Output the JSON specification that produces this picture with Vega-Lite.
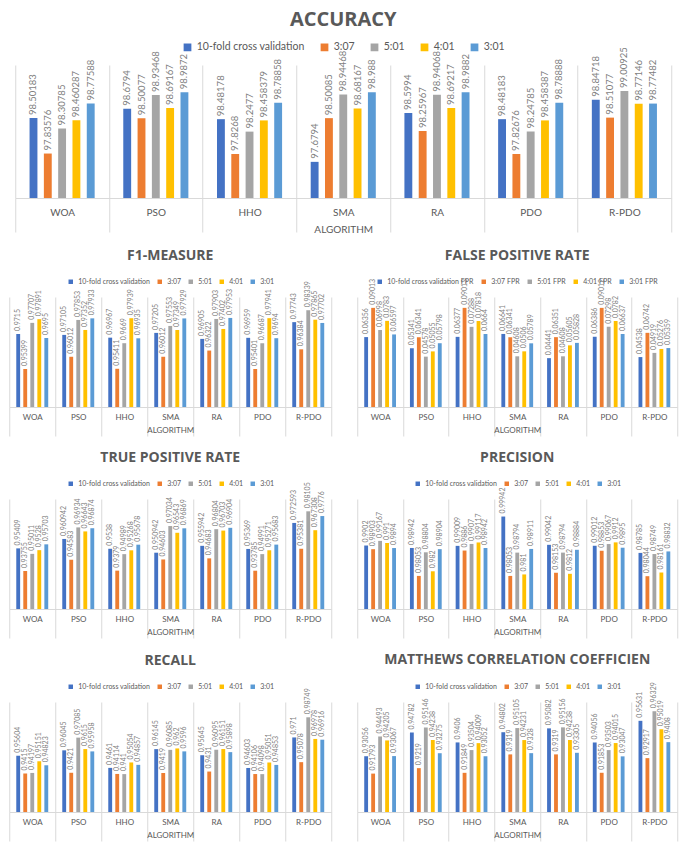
{
  "$schema": "https://vega.github.io/schema/vega-lite/v6.json",
  "padding": {"top": 10, "left": 8, "right": 8, "bottom": 4},
  "background": "white",
  "data": {
    "values": [
      {"metric": "ACC", "algorithm": "WOA", "10-fold cross validation": 98.50183, "3:07": 97.83576, "5:01": 98.30785, "4:01": 98.460287, "3:01": 98.77588},
      {"metric": "ACC", "algorithm": "PSO", "10-fold cross validation": 98.6794, "3:07": 98.50077, "5:01": 98.93468, "4:01": 98.69167, "3:01": 98.9872},
      {"metric": "ACC", "algorithm": "HHO", "10-fold cross validation": 98.48178, "3:07": 97.8268, "5:01": 98.2477, "4:01": 98.458379, "3:01": 98.78858},
      {"metric": "ACC", "algorithm": "SMA", "10-fold cross validation": 97.6794, "3:07": 98.50085, "5:01": 98.94468, "4:01": 98.68167, "3:01": 98.988},
      {"metric": "ACC", "algorithm": "RA", "10-fold cross validation": 98.5994, "3:07": 98.25967, "5:01": 98.94068, "4:01": 98.69217, "3:01": 98.9882},
      {"metric": "ACC", "algorithm": "PDO", "10-fold cross validation": 98.48183, "3:07": 97.82676, "5:01": 98.24785, "4:01": 98.458387, "3:01": 98.78888},
      {"metric": "ACC", "algorithm": "R-PDO", "10-fold cross validation": 98.84718, "3:07": 98.51077, "5:01": 99.00925, "4:01": 98.77146, "3:01": 98.77482},
      {"metric": "F1", "algorithm": "WOA", "10-fold cross validation": 0.9715, "3:07": 0.95399, "5:01": 0.97707, "4:01": 0.97891, "3:01": 0.9695},
      {"metric": "F1", "algorithm": "PSO", "10-fold cross validation": 0.97105, "3:07": 0.96012, "5:01": 0.97853, "4:01": 0.97352, "3:01": 0.97933},
      {"metric": "F1", "algorithm": "HHO", "10-fold cross validation": 0.96967, "3:07": 0.95411, "5:01": 0.9669, "4:01": 0.97939, "3:01": 0.96935},
      {"metric": "F1", "algorithm": "SMA", "10-fold cross validation": 0.97205, "3:07": 0.96012, "5:01": 0.97553, "4:01": 0.97349, "3:01": 0.97929},
      {"metric": "F1", "algorithm": "RA", "10-fold cross validation": 0.96905, "3:07": 0.96322, "5:01": 0.97903, "4:01": 0.97402, "3:01": 0.97953},
      {"metric": "F1", "algorithm": "PDO", "10-fold cross validation": 0.96959, "3:07": 0.95401, "5:01": 0.96687, "4:01": 0.97941, "3:01": 0.9694},
      {"metric": "F1", "algorithm": "R-PDO", "10-fold cross validation": 0.97743, "3:07": 0.96384, "5:01": 0.98339, "4:01": 0.97865, "3:01": 0.97702},
      {"metric": "FPR", "algorithm": "WOA", "10-fold cross validation": 0.06356, "3:07": 0.09013, "5:01": 0.06998, "4:01": 0.0783, "3:01": 0.06597},
      {"metric": "FPR", "algorithm": "PSO", "10-fold cross validation": 0.05341, "3:07": 0.06341, "5:01": 0.04578, "4:01": 0.05055, "3:01": 0.05798},
      {"metric": "FPR", "algorithm": "HHO", "10-fold cross validation": 0.06377, "3:07": 0.09013, "5:01": 0.07288, "4:01": 0.07818, "3:01": 0.0664},
      {"metric": "FPR", "algorithm": "SMA", "10-fold cross validation": 0.06641, "3:07": 0.06341, "5:01": 0.04608, "4:01": 0.0506, "3:01": 0.05789},
      {"metric": "FPR", "algorithm": "RA", "10-fold cross validation": 0.04441, "3:07": 0.06351, "5:01": 0.04608, "4:01": 0.05605, "3:01": 0.05828},
      {"metric": "FPR", "algorithm": "PDO", "10-fold cross validation": 0.06386, "3:07": 0.09012, "5:01": 0.07298, "4:01": 0.0782, "3:01": 0.06637},
      {"metric": "FPR", "algorithm": "R-PDO", "10-fold cross validation": 0.04538, "3:07": 0.06742, "5:01": 0.04919, "4:01": 0.05276, "3:01": 0.05359},
      {"metric": "TPR", "algorithm": "WOA", "10-fold cross validation": 0.95409, "3:07": 0.93755, "5:01": 0.95011, "4:01": 0.9528, "3:01": 0.95703},
      {"metric": "TPR", "algorithm": "PSO", "10-fold cross validation": 0.960942, "3:07": 0.94583, "5:01": 0.96934, "4:01": 0.96643, "3:01": 0.96874},
      {"metric": "TPR", "algorithm": "HHO", "10-fold cross validation": 0.9538, "3:07": 0.9379, "5:01": 0.94989, "4:01": 0.95268, "3:01": 0.95678},
      {"metric": "TPR", "algorithm": "SMA", "10-fold cross validation": 0.950942, "3:07": 0.94603, "5:01": 0.97034, "4:01": 0.96543, "3:01": 0.96869},
      {"metric": "TPR", "algorithm": "RA", "10-fold cross validation": 0.955942, "3:07": 0.94683, "5:01": 0.96804, "4:01": 0.96703, "3:01": 0.96904},
      {"metric": "TPR", "algorithm": "PDO", "10-fold cross validation": 0.95369, "3:07": 0.93785, "5:01": 0.94991, "4:01": 0.95271, "3:01": 0.95683},
      {"metric": "TPR", "algorithm": "R-PDO", "10-fold cross validation": 0.972593, "3:07": 0.95381, "5:01": 0.98105, "4:01": 0.967308, "3:01": 0.9776},
      {"metric": "PREC", "algorithm": "WOA", "10-fold cross validation": 0.9902, "3:07": 0.98903, "5:01": 0.99167, "4:01": 0.991, "3:01": 0.9894},
      {"metric": "PREC", "algorithm": "PSO", "10-fold cross validation": 0.98942, "3:07": 0.98053, "5:01": 0.98804, "4:01": 0.982, "3:01": 0.98904},
      {"metric": "PREC", "algorithm": "HHO", "10-fold cross validation": 0.99009, "3:07": 0.9886, "5:01": 0.9907, "4:01": 0.99117, "3:01": 0.98942},
      {"metric": "PREC", "algorithm": "SMA", "10-fold cross validation": 0.99942, "3:07": 0.98053, "5:01": 0.98794, "4:01": 0.981, "3:01": 0.98911},
      {"metric": "PREC", "algorithm": "RA", "10-fold cross validation": 0.99042, "3:07": 0.98153, "5:01": 0.98794, "4:01": 0.9812, "3:01": 0.98884},
      {"metric": "PREC", "algorithm": "PDO", "10-fold cross validation": 0.99012, "3:07": 0.98853, "5:01": 0.99067, "4:01": 0.9912, "3:01": 0.9895},
      {"metric": "PREC", "algorithm": "R-PDO", "10-fold cross validation": 0.98785, "3:07": 0.98044, "5:01": 0.98749, "4:01": 0.98161, "3:01": 0.98832},
      {"metric": "REC", "algorithm": "WOA", "10-fold cross validation": 0.95604, "3:07": 0.9415, "5:01": 0.94197, "4:01": 0.95151, "3:01": 0.94823},
      {"metric": "REC", "algorithm": "PSO", "10-fold cross validation": 0.96045, "3:07": 0.9421, "5:01": 0.97085, "4:01": 0.9615, "3:01": 0.95958},
      {"metric": "REC", "algorithm": "HHO", "10-fold cross validation": 0.9461, "3:07": 0.94114, "5:01": 0.941, "4:01": 0.95054, "3:01": 0.94857},
      {"metric": "REC", "algorithm": "SMA", "10-fold cross validation": 0.96145, "3:07": 0.9419, "5:01": 0.96085, "4:01": 0.962, "3:01": 0.9596},
      {"metric": "REC", "algorithm": "RA", "10-fold cross validation": 0.95645, "3:07": 0.9431, "5:01": 0.96095, "4:01": 0.96151, "3:01": 0.95898},
      {"metric": "REC", "algorithm": "PDO", "10-fold cross validation": 0.94603, "3:07": 0.94106, "5:01": 0.94098, "4:01": 0.95051, "3:01": 0.94853},
      {"metric": "REC", "algorithm": "R-PDO", "10-fold cross validation": 0.971, "3:07": 0.95078, "5:01": 0.98749, "4:01": 0.96978, "3:01": 0.96916},
      {"metric": "MCC", "algorithm": "WOA", "10-fold cross validation": 0.93056, "3:07": 0.91793, "5:01": 0.94493, "4:01": 0.94205, "3:01": 0.93067},
      {"metric": "MCC", "algorithm": "PSO", "10-fold cross validation": 0.94782, "3:07": 0.9219, "5:01": 0.95146, "4:01": 0.94238, "3:01": 0.93275},
      {"metric": "MCC", "algorithm": "HHO", "10-fold cross validation": 0.9406, "3:07": 0.91849, "5:01": 0.93504, "4:01": 0.94009, "3:01": 0.93052},
      {"metric": "MCC", "algorithm": "SMA", "10-fold cross validation": 0.94802, "3:07": 0.9319, "5:01": 0.95105, "4:01": 0.94231, "3:01": 0.9328},
      {"metric": "MCC", "algorithm": "RA", "10-fold cross validation": 0.95082, "3:07": 0.9319, "5:01": 0.95156, "4:01": 0.94238, "3:01": 0.93305},
      {"metric": "MCC", "algorithm": "PDO", "10-fold cross validation": 0.94056, "3:07": 0.91853, "5:01": 0.93503, "4:01": 0.94015, "3:01": 0.93047},
      {"metric": "MCC", "algorithm": "R-PDO", "10-fold cross validation": 0.95631, "3:07": 0.92917, "5:01": 0.96329, "4:01": 0.95019, "3:01": 0.9408}
    ]
  },
  "transform": [
    {"fold": ["10-fold cross validation", "3:07", "5:01", "4:01", "3:01"], "as": ["series", "value"]}
  ],
  "center": true,
  "spacing": 14,
  "resolve": {"scale": {"color": "independent", "x": "independent", "y": "independent", "xOffset": "independent"}},
  "vconcat": [
    {
      "title": {"text": "ACCURACY", "fontSize": 20, "offset": 12},
      "width": 656,
      "height": 133,
      "transform": [{"filter": "datum.metric === 'ACC'"}],
      "encoding": {
        "x": {"field": "algorithm", "type": "nominal", "sort": ["WOA", "PSO", "HHO", "SMA", "RA", "PDO", "R-PDO"], "scale": {"paddingInner": 0, "paddingOuter": 0},
          "axis": {"title": "ALGORITHM", "labelFontSize": 10, "titleFontSize": 10, "tickSize": 34, "labelPadding": -25, "titlePadding": -8}},
        "xOffset": {"field": "series", "type": "nominal", "scale": {"domain": ["10-fold cross validation", "3:07", "5:01", "4:01", "3:01"], "paddingInner": 0.45, "paddingOuter": 1.1}},
        "y": {"field": "value", "type": "quantitative", "scale": {"domain": [97, 99.5], "zero": false, "nice": false}, "axis": null}
      },
      "layer": [
        {"mark": {"type": "bar"},
          "encoding": {"y2": {"datum": 97},
            "color": {"field": "series", "type": "nominal", "scale": {"domain": ["10-fold cross validation", "3:07", "5:01", "4:01", "3:01"], "range": ["#4472c4", "#ed7d31", "#a5a5a5", "#ffc000", "#5b9bd5"]},
              "legend": {"title": null, "labelFontSize": 10.5, "symbolSize": 60, "columnPadding": 14}}}},
        {"mark": {"type": "text", "fontSize": 9.5}, "encoding": {"text": {"field": "value", "type": "nominal"}}}
      ]
    },
    {
      "hconcat": [
        {
          "title": "F1-MEASURE",
          "width": 322,
          "height": 110,
          "transform": [{"filter": "datum.metric === 'F1'"}],
          "encoding": {
            "x": {"field": "algorithm", "type": "nominal", "sort": ["WOA", "PSO", "HHO", "SMA", "RA", "PDO", "R-PDO"], "scale": {"paddingInner": 0, "paddingOuter": 0}, "axis": {"title": "ALGORITHM"}},
            "xOffset": {"field": "series", "type": "nominal", "scale": {"domain": ["10-fold cross validation", "3:07", "5:01", "4:01", "3:01"], "paddingInner": 0.45, "paddingOuter": 1.1}},
            "y": {"field": "value", "type": "quantitative", "scale": {"domain": [0.935, 0.99], "zero": false, "nice": false}, "axis": null}
          },
          "layer": [
            {"mark": {"type": "bar"},
              "encoding": {"y2": {"datum": 0.935},
                "color": {"field": "series", "type": "nominal", "scale": {"domain": ["10-fold cross validation", "3:07", "5:01", "4:01", "3:01"], "range": ["#4472c4", "#ed7d31", "#a5a5a5", "#ffc000", "#5b9bd5"]}, "legend": {"title": null}}}},
            {"mark": {"type": "text"}, "encoding": {"text": {"field": "value", "type": "nominal"}}}
          ]
        },
        {
          "title": "FALSE POSITIVE RATE",
          "width": 320,
          "height": 110,
          "transform": [{"filter": "datum.metric === 'FPR'"}],
          "encoding": {
            "x": {"field": "algorithm", "type": "nominal", "sort": ["WOA", "PSO", "HHO", "SMA", "RA", "PDO", "R-PDO"], "scale": {"paddingInner": 0, "paddingOuter": 0}, "axis": {"title": "ALGORITHM"}},
            "xOffset": {"field": "series", "type": "nominal", "scale": {"domain": ["10-fold cross validation", "3:07", "5:01", "4:01", "3:01"], "paddingInner": 0.45, "paddingOuter": 1.1}},
            "y": {"field": "value", "type": "quantitative", "scale": {"domain": [0, 0.1], "nice": false}, "axis": null}
          },
          "layer": [
            {"mark": {"type": "bar"},
              "encoding": {"y2": {"datum": 0},
                "color": {"field": "series", "type": "nominal", "scale": {"domain": ["10-fold cross validation", "3:07", "5:01", "4:01", "3:01"], "range": ["#4472c4", "#ed7d31", "#a5a5a5", "#ffc000", "#5b9bd5"]}, "legend": {"title": null, "labelExpr": "datum.label + ' FPR'"}}}},
            {"mark": {"type": "text"}, "encoding": {"text": {"field": "value", "type": "nominal"}}}
          ]
        }
      ],
      "spacing": 24,
      "resolve": {"scale": {"color": "independent", "x": "independent", "y": "independent", "xOffset": "independent"}}
    },
    {
      "hconcat": [
        {
          "title": "TRUE POSITIVE RATE",
          "width": 322,
          "height": 110,
          "transform": [{"filter": "datum.metric === 'TPR'"}],
          "encoding": {
            "x": {"field": "algorithm", "type": "nominal", "sort": ["WOA", "PSO", "HHO", "SMA", "RA", "PDO", "R-PDO"], "scale": {"paddingInner": 0, "paddingOuter": 0}, "axis": {"title": "ALGORITHM"}},
            "xOffset": {"field": "series", "type": "nominal", "scale": {"domain": ["10-fold cross validation", "3:07", "5:01", "4:01", "3:01"], "paddingInner": 0.45, "paddingOuter": 1.1}},
            "y": {"field": "value", "type": "quantitative", "scale": {"domain": [0.91, 0.99], "zero": false, "nice": false}, "axis": null}
          },
          "layer": [
            {"mark": {"type": "bar"},
              "encoding": {"y2": {"datum": 0.91},
                "color": {"field": "series", "type": "nominal", "scale": {"domain": ["10-fold cross validation", "3:07", "5:01", "4:01", "3:01"], "range": ["#4472c4", "#ed7d31", "#a5a5a5", "#ffc000", "#5b9bd5"]}, "legend": {"title": null}}}},
            {"mark": {"type": "text"}, "encoding": {"text": {"field": "value", "type": "nominal"}}}
          ]
        },
        {
          "title": "PRECISION",
          "width": 320,
          "height": 110,
          "transform": [{"filter": "datum.metric === 'PREC'"}],
          "encoding": {
            "x": {"field": "algorithm", "type": "nominal", "sort": ["WOA", "PSO", "HHO", "SMA", "RA", "PDO", "R-PDO"], "scale": {"paddingInner": 0, "paddingOuter": 0}, "axis": {"title": "ALGORITHM"}},
            "xOffset": {"field": "series", "type": "nominal", "scale": {"domain": ["10-fold cross validation", "3:07", "5:01", "4:01", "3:01"], "paddingInner": 0.45, "paddingOuter": 1.1}},
            "y": {"field": "value", "type": "quantitative", "scale": {"domain": [0.97, 1.005], "zero": false, "nice": false}, "axis": null}
          },
          "layer": [
            {"mark": {"type": "bar"},
              "encoding": {"y2": {"datum": 0.97},
                "color": {"field": "series", "type": "nominal", "scale": {"domain": ["10-fold cross validation", "3:07", "5:01", "4:01", "3:01"], "range": ["#4472c4", "#ed7d31", "#a5a5a5", "#ffc000", "#5b9bd5"]}, "legend": {"title": null}}}},
            {"mark": {"type": "text"}, "encoding": {"text": {"field": "value", "type": "nominal"}}}
          ]
        }
      ],
      "spacing": 24,
      "resolve": {"scale": {"color": "independent", "x": "independent", "y": "independent", "xOffset": "independent"}}
    },
    {
      "hconcat": [
        {
          "title": "RECALL",
          "width": 322,
          "height": 110,
          "transform": [{"filter": "datum.metric === 'REC'"}],
          "encoding": {
            "x": {"field": "algorithm", "type": "nominal", "sort": ["WOA", "PSO", "HHO", "SMA", "RA", "PDO", "R-PDO"], "scale": {"paddingInner": 0, "paddingOuter": 0}, "axis": {"title": "ALGORITHM"}},
            "xOffset": {"field": "series", "type": "nominal", "scale": {"domain": ["10-fold cross validation", "3:07", "5:01", "4:01", "3:01"], "paddingInner": 0.45, "paddingOuter": 1.1}},
            "y": {"field": "value", "type": "quantitative", "scale": {"domain": [0.91, 1.0], "zero": false, "nice": false}, "axis": null}
          },
          "layer": [
            {"mark": {"type": "bar"},
              "encoding": {"y2": {"datum": 0.91},
                "color": {"field": "series", "type": "nominal", "scale": {"domain": ["10-fold cross validation", "3:07", "5:01", "4:01", "3:01"], "range": ["#4472c4", "#ed7d31", "#a5a5a5", "#ffc000", "#5b9bd5"]}, "legend": {"title": null}}}},
            {"mark": {"type": "text"}, "encoding": {"text": {"field": "value", "type": "nominal"}}}
          ]
        },
        {
          "title": "MATTHEWS CORRELATION COEFFICIEN",
          "width": 320,
          "height": 110,
          "transform": [{"filter": "datum.metric === 'MCC'"}],
          "encoding": {
            "x": {"field": "algorithm", "type": "nominal", "sort": ["WOA", "PSO", "HHO", "SMA", "RA", "PDO", "R-PDO"], "scale": {"paddingInner": 0, "paddingOuter": 0}, "axis": {"title": "ALGORITHM"}},
            "xOffset": {"field": "series", "type": "nominal", "scale": {"domain": ["10-fold cross validation", "3:07", "5:01", "4:01", "3:01"], "paddingInner": 0.45, "paddingOuter": 1.1}},
            "y": {"field": "value", "type": "quantitative", "scale": {"domain": [0.89, 0.97], "zero": false, "nice": false}, "axis": null}
          },
          "layer": [
            {"mark": {"type": "bar"},
              "encoding": {"y2": {"datum": 0.89},
                "color": {"field": "series", "type": "nominal", "scale": {"domain": ["10-fold cross validation", "3:07", "5:01", "4:01", "3:01"], "range": ["#4472c4", "#ed7d31", "#a5a5a5", "#ffc000", "#5b9bd5"]}, "legend": {"title": null}}}},
            {"mark": {"type": "text"}, "encoding": {"text": {"field": "value", "type": "nominal"}}}
          ]
        }
      ],
      "spacing": 24,
      "resolve": {"scale": {"color": "independent", "x": "independent", "y": "independent", "xOffset": "independent"}}
    }
  ],
  "config": {
    "font": "Lato",
    "view": {"stroke": null},
    "title": {"font": "Open Sans", "fontWeight": "bold", "color": "#595959", "fontSize": 14, "offset": 15},
    "axisX": {"labelAngle": 0, "labelColor": "#595959", "titleColor": "#595959", "titleFontWeight": "normal", "labelFontSize": 8, "titleFontSize": 8,
      "domainColor": "#d9d9d9", "tickColor": "#d9d9d9", "grid": true, "gridColor": "#d9d9d9", "tickBand": "extent", "tickSize": 29, "labelPadding": -23, "titlePadding": -10},
    "legend": {"orient": "top", "direction": "horizontal", "symbolType": "square", "labelColor": "#595959", "labelFontSize": 7, "symbolSize": 20, "columnPadding": 6, "symbolOffset": 0, "offset": 12,
      "layout": {"top": {"anchor": "middle"}}},
    "text": {"angle": 270, "align": "left", "baseline": "middle", "dx": 3, "color": "#7f7f7f", "fontSize": 7}
  }
}
